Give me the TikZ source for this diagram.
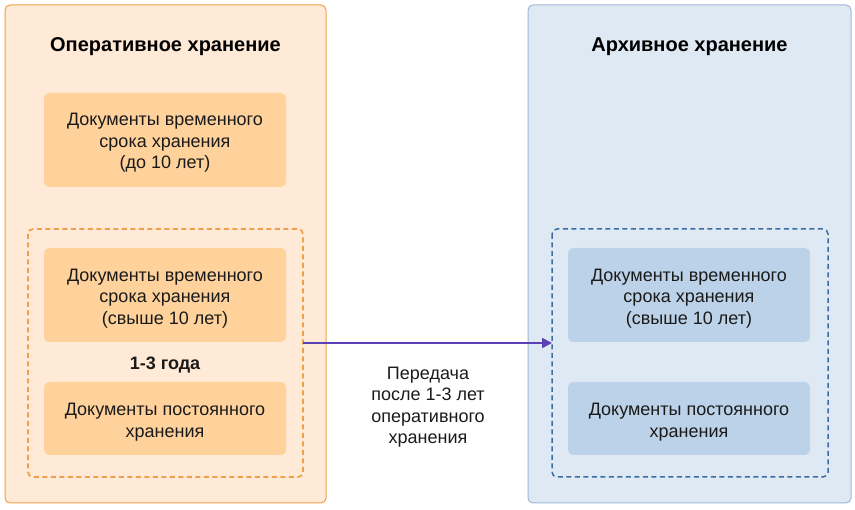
\documentclass[tikz,border=0pt]{standalone}
\usepackage{fontspec}
\setmainfont{Liberation Sans}
\usetikzlibrary{arrows.meta}
\definecolor{obg}{HTML}{FFEAD7}
\definecolor{oline}{HTML}{F0A04B}
\definecolor{obox}{HTML}{FFD29B}
\definecolor{bbg}{HTML}{DFE9F4}
\definecolor{bline}{HTML}{9DB8D6}
\definecolor{bbox}{HTML}{BCD2E8}
\definecolor{bdash}{HTML}{3B6EA3}
\definecolor{arr}{HTML}{5B3FB5}
\definecolor{txt}{HTML}{1A1A1A}
\tikzset{
  x=1pt,y=-1pt,
  panel/.style={rounded corners=5pt, line width=1pt},
  docbox/.style={rounded corners=5pt, draw=none},
  dashbox/.style={rounded corners=5pt, dash pattern=on 5pt off 3.5pt, line width=1.8pt},
  lbl/.style={align=center, font=\fontsize{18}{21.5}\selectfont, text=txt},
  ttl/.style={font=\fontsize{20}{22}\selectfont\bfseries, text=black},
}
\begin{document}
\begin{tikzpicture}
\useasboundingbox (0,0) rectangle (855,510);
% left panel
\draw[panel, fill=obg, draw=oline] (5,5) rectangle (326,503);
\node[ttl] (t1) at (165.5,47) {Оперативное хранение};
\fill[docbox, fill=obox] (44,93) rectangle (286,187);
\node[lbl] (a1) at (165,143) {Документы временного\\срока хранения\\(до 10 лет)};
\draw[dashbox, draw=oline] (28,229) rectangle (303,477);
\coordinate (ld) at (303,343);
\fill[docbox, fill=obox] (44,248) rectangle (286,342);
\node[lbl] (a2) at (165,298.5) {Документы временного\\срока хранения\\(свыше 10 лет)};
\node[lbl, font=\fontsize{18}{21}\selectfont\bfseries] (yr) at (165,365) {1-3 года};
\fill[docbox, fill=obox] (44,382) rectangle (286,455);
\node[lbl] (a3) at (165,422) {Документы постоянного\\хранения};
% right panel
\draw[panel, fill=bbg, draw=bline] (528,5) rectangle (851,503);
\node[ttl] (t2) at (689.5,47) {Архивное хранение};
\draw[dashbox, draw=bdash, line width=1.5pt] (552,229) rectangle (828,477);
\coordinate (rd) at (552,343);
\fill[docbox, fill=bbox] (568,248) rectangle (810,342);
\node[lbl] (b1) at (689,298.5) {Документы временного\\срока хранения\\(свыше 10 лет)};
\fill[docbox, fill=bbox] (568,382) rectangle (810,455);
\node[lbl] (b2) at (689,422) {Документы постоянного\\хранения};
% arrow
\draw[arr, line width=1.7pt, -{Triangle[length=10pt,width=10pt]}] (ld) -- (rd);
\node[lbl] (lab) at (428,407) {Передача\\после 1-3 лет\\оперативного\\хранения};
\end{tikzpicture}
\end{document}
